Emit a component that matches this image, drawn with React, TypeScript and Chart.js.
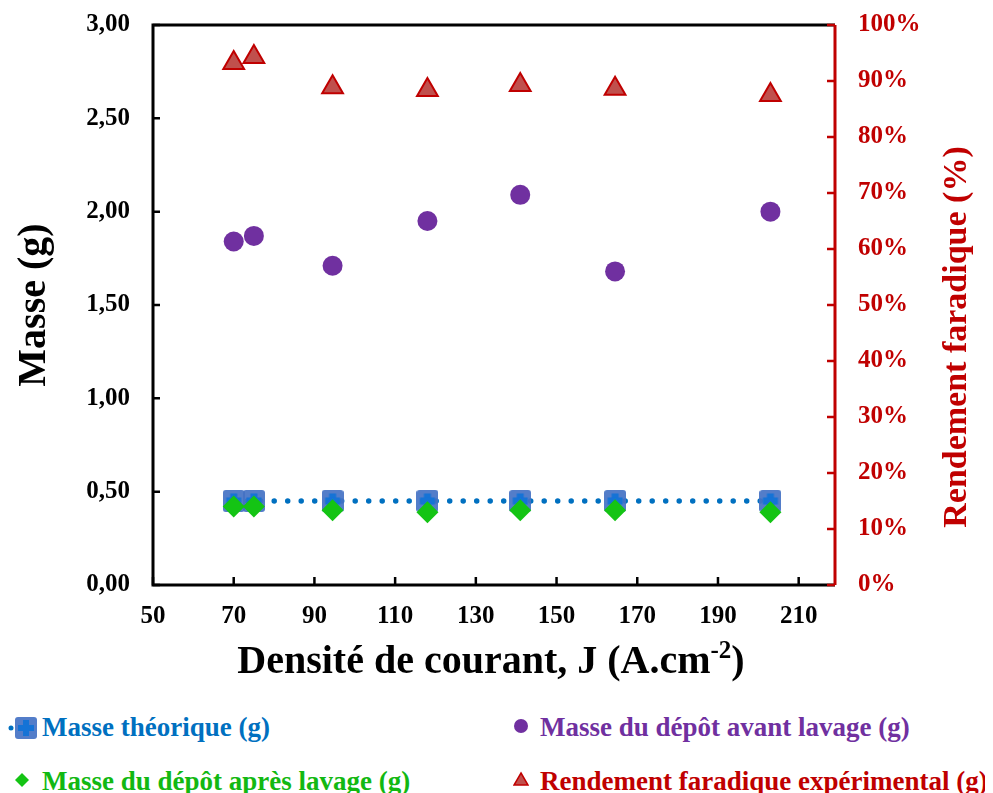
import React, { useEffect, useRef } from 'react';
import { Chart, registerables } from 'chart.js';

Chart.register(...registerables);

const densite = [70, 75, 94.5, 118, 141, 164.5, 203];
const masseTheorique = [0.45, 0.45, 0.45, 0.45, 0.45, 0.45, 0.45];
const masseAvant = [1.84, 1.87, 1.71, 1.95, 2.09, 1.68, 2.0];
const masseApres = [0.42, 0.42, 0.4, 0.39, 0.4, 0.4, 0.39];
const rendement = [93.2, 94.3, 88.9, 88.4, 89.3, 88.6, 87.5];

const xTicks = [50, 70, 90, 110, 130, 150, 170, 190, 210];
const yTicks = [0, 0.5, 1, 1.5, 2, 2.5, 3];
const y2Ticks = [0, 10, 20, 30, 40, 50, 60, 70, 80, 90, 100];

const xTitleMain = 'Densité de courant, J (A.cm';
const xTitleSup = '-2';
const xTitleEnd = ')';
const y2Title = 'Rendement faradique (%)';

const SERIF = "'Liberation Serif', 'Times New Roman', serif";
const BLUE = '#0070C0';
const GREEN = '#14C414';
const PURPLE = '#7030A0';
const RED = '#C00000';

function makeSquarePlus(size: number): HTMLCanvasElement {
  const c = document.createElement('canvas');
  c.width = size;
  c.height = size;
  const g = c.getContext('2d')!;
  const r = 3;
  g.fillStyle = 'rgba(68,114,196,0.92)';
  g.beginPath();
  g.moveTo(r, 0);
  g.lineTo(size - r, 0);
  g.quadraticCurveTo(size, 0, size, r);
  g.lineTo(size, size - r);
  g.quadraticCurveTo(size, size, size - r, size);
  g.lineTo(r, size);
  g.quadraticCurveTo(0, size, 0, size - r);
  g.lineTo(0, r);
  g.quadraticCurveTo(0, 0, r, 0);
  g.fill();
  g.fillStyle = '#1573D6';
  const arm = Math.round(size * 0.3);
  const len = Math.round(size * 0.7);
  const off = (size - len) / 2;
  g.fillRect((size - arm) / 2, off, arm, len);
  g.fillRect(off, (size - arm) / 2, len, arm);
  return c;
}

const framePlugin = {
  id: 'frame',
  afterDraw(chart: any) {
    const { ctx, chartArea, scales } = chart;
    const { left, right, top, bottom } = chartArea;
    ctx.save();
    ctx.lineWidth = 2.5;
    ctx.strokeStyle = '#000';
    ctx.beginPath();
    yTicks.forEach((v) => {
      const y = scales.y.getPixelForValue(v);
      ctx.moveTo(left, y);
      ctx.lineTo(left + 7, y);
    });
    xTicks.forEach((v) => {
      const x = scales.x.getPixelForValue(v);
      ctx.moveTo(x, bottom);
      ctx.lineTo(x, bottom - 8);
    });
    ctx.stroke();
    ctx.lineWidth = 3;
    ctx.beginPath();
    ctx.moveTo(right, top);
    ctx.lineTo(left, top);
    ctx.lineTo(left, bottom);
    ctx.lineTo(right, bottom);
    ctx.stroke();
    ctx.strokeStyle = RED;
    ctx.lineWidth = 2.5;
    ctx.beginPath();
    y2Ticks.forEach((v) => {
      const y = scales.y1.getPixelForValue(v);
      ctx.moveTo(right, y);
      ctx.lineTo(right - 8, y);
    });
    ctx.stroke();
    ctx.lineWidth = 3;
    ctx.beginPath();
    ctx.moveTo(right, top);
    ctx.lineTo(right, bottom);
    ctx.stroke();

    // x axis title with superscript
    const mainFont = `bold 40px ${SERIF}`;
    const supFont = `bold 25px ${SERIF}`;
    ctx.fillStyle = '#000';
    ctx.textBaseline = 'alphabetic';
    ctx.textAlign = 'left';
    ctx.font = mainFont;
    const w1 = ctx.measureText(xTitleMain).width;
    const w3 = ctx.measureText(xTitleEnd).width;
    ctx.font = supFont;
    const w2 = ctx.measureText(xTitleSup).width;
    const total = w1 + w2 + w3;
    const cx = (left + right) / 2 - 3;
    const baseY = bottom + 88;
    let x0 = cx - total / 2;
    ctx.font = mainFont;
    ctx.fillText(xTitleMain, x0, baseY);
    x0 += w1;
    ctx.font = supFont;
    ctx.fillText(xTitleSup, x0, baseY - 15);
    x0 += w2;
    ctx.font = mainFont;
    ctx.fillText(xTitleEnd, x0, baseY);

    // right axis title (reads bottom to top)
    ctx.fillStyle = RED;
    ctx.font = `bold 34px ${SERIF}`;
    ctx.textAlign = 'center';
    ctx.textBaseline = 'middle';
    ctx.translate(right + 122, (top + bottom) / 2 + 32);
    ctx.rotate(-Math.PI / 2);
    ctx.fillText(y2Title, 0, 0);
    ctx.restore();
  },
};

function LegendIcon({ kind }: { kind: string }) {
  if (kind === 'blue') {
    return (
      <svg width="30" height="24" viewBox="0 0 30 24">
        <circle cx="3" cy="12" r="2.5" fill={BLUE} />
        <rect x="7" y="1" width="22" height="22" rx="3" fill="rgba(68,114,196,0.92)" />
        <rect x="15" y="4" width="6" height="16" fill="#1573D6" />
        <rect x="10" y="9" width="16" height="6" fill="#1573D6" />
      </svg>
    );
  }
  if (kind === 'green') {
    return (
      <svg width="16" height="16" viewBox="0 0 16 16">
        <polygon points="8,1 15,8 8,15 1,8" fill={GREEN} />
      </svg>
    );
  }
  if (kind === 'purple') {
    return (
      <svg width="16" height="16" viewBox="0 0 16 16">
        <circle cx="8" cy="8" r="7" fill={PURPLE} />
      </svg>
    );
  }
  return (
    <svg width="16" height="16" viewBox="0 0 16 16">
      <polygon points="8,2 15,14 1,14" fill="#C0504D" stroke={RED} strokeWidth="1.5" />
    </svg>
  );
}

export default function App() {
  const ref = useRef<HTMLCanvasElement>(null);

  useEffect(() => {
    document.documentElement.style.overflow = 'hidden';
    const squareImg = makeSquarePlus(22);
    const chart = new Chart(ref.current!, {
      type: 'scatter',
      data: {
        datasets: [
          {
            label: 'Masse du dépôt après lavage (g)',
            data: densite.map((x, i) => ({ x, y: masseApres[i] })),
            pointStyle: 'rectRot',
            pointRadius: 11,
            pointHoverRadius: 11,
            backgroundColor: GREEN,
            borderColor: GREEN,
            borderWidth: 0,
            yAxisID: 'y',
          },
          {
            label: 'Masse théorique (g)',
            data: densite.map((x, i) => ({ x, y: masseTheorique[i] })),
            showLine: true,
            borderColor: BLUE,
            borderWidth: 5.5,
            borderDash: [0, 13.5],
            borderCapStyle: 'round',
            pointStyle: squareImg,
            pointRadius: 11,
            backgroundColor: BLUE,
            yAxisID: 'y',
          },
          {
            label: 'Masse du dépôt avant lavage (g)',
            data: densite.map((x, i) => ({ x, y: masseAvant[i] })),
            pointStyle: 'circle',
            pointRadius: 10,
            backgroundColor: PURPLE,
            borderColor: PURPLE,
            borderWidth: 0,
            yAxisID: 'y',
          },
          {
            label: 'Rendement faradique expérimental (g)',
            data: densite.map((x, i) => ({ x, y: rendement[i] })),
            pointStyle: 'triangle',
            pointRadius: 12,
            backgroundColor: '#C0504D',
            borderColor: RED,
            borderWidth: 2,
            yAxisID: 'y1',
          },
        ],
      },
      options: {
        animation: false,
        responsive: false,
        maintainAspectRatio: false,
        layout: { autoPadding: false, padding: { top: 17, left: 0, right: 0, bottom: 0 } },
        plugins: {
          legend: { display: false },
          tooltip: { enabled: false },
        },
        scales: {
          x: {
            type: 'linear',
            min: 50,
            max: 219,
            afterBuildTicks: (s: any) => {
              s.ticks = xTicks.map((v) => ({ value: v }));
            },
            afterFit: (s: any) => {
              s.height = 113;
              s.paddingLeft = 0;
              s.paddingRight = 0;
            },
            grid: { display: false },
            border: { display: false },
            ticks: {
              font: { family: SERIF, size: 25, weight: 'bold' },
              color: '#000',
              padding: 9,
              maxRotation: 0,
            },
            title: { display: false },
          },
          y: {
            type: 'linear',
            position: 'left',
            min: 0,
            max: 3,
            afterBuildTicks: (s: any) => {
              s.ticks = yTicks.map((v) => ({ value: v }));
            },
            afterFit: (s: any) => {
              s.width = 145;
              s.paddingTop = 0;
              s.paddingBottom = 0;
            },
            grid: { display: false },
            border: { display: false },
            ticks: {
              font: { family: SERIF, size: 25, weight: 'bold' },
              color: '#000',
              padding: 15,
              callback: (v: any) => Number(v).toFixed(2).replace('.', ','),
            },
            title: {
              display: true,
              text: 'Masse (g)',
              font: { family: SERIF, size: 40, weight: 'bold' },
              color: '#000',
              padding: { top: 3, bottom: 0 },
            },
          },
          y1: {
            type: 'linear',
            position: 'right',
            min: 0,
            max: 100,
            afterBuildTicks: (s: any) => {
              s.ticks = y2Ticks.map((v) => ({ value: v }));
            },
            afterFit: (s: any) => {
              s.width = 150;
              s.paddingTop = 0;
              s.paddingBottom = 0;
            },
            grid: { display: false },
            border: { display: false },
            ticks: {
              font: { family: SERIF, size: 25, weight: 'bold' },
              color: RED,
              padding: 15,
              callback: (v: any) => `${v}%`,
            },
          },
        },
      },
      plugins: [framePlugin],
    } as any);
    return () => chart.destroy();
  }, []);

  const textStyle = (color: string): React.CSSProperties => ({
    position: 'absolute',
    fontFamily: SERIF,
    fontWeight: 'bold',
    fontSize: 27,
    lineHeight: '27px',
    color,
    whiteSpace: 'nowrap',
  });

  return (
    <div style={{ position: 'relative', width: 977, height: 785 }}>
      <canvas ref={ref} width={977} height={690} style={{ display: 'block', width: 977, height: 690 }} />
      <div style={{ position: 'absolute', left: 0, top: 708 }}>
        <LegendIcon kind="blue" />
      </div>
      <div style={{ ...textStyle(BLUE), left: 34, top: 706 }}>Masse théorique (g)</div>
      <div style={{ position: 'absolute', left: 505, top: 710 }}>
        <LegendIcon kind="purple" />
      </div>
      <div style={{ ...textStyle(PURPLE), left: 532, top: 706 }}>Masse du dépôt avant lavage (g)</div>
      <div style={{ position: 'absolute', left: 6, top: 764 }}>
        <LegendIcon kind="green" />
      </div>
      <div style={{ ...textStyle('#12B812'), left: 34, top: 760 }}>Masse du dépôt après lavage (g)</div>
      <div style={{ position: 'absolute', left: 505, top: 763 }}>
        <LegendIcon kind="red" />
      </div>
      <div style={{ ...textStyle(RED), left: 532, top: 760 }}>Rendement faradique expérimental (g)</div>
    </div>
  );
}
